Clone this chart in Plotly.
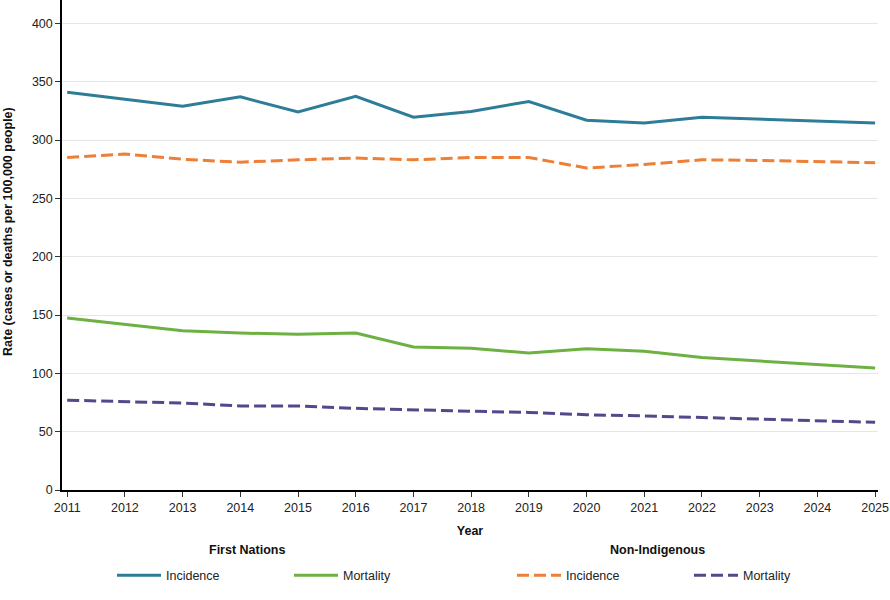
import plotly.graph_objects as go

years = list(range(2011, 2026))
fn_incidence = [341, 335, 329, 337, 324, 337.5, 319.5, 324.5, 333, 317, 314.5, 319.5, 318, 316, 314.5]
fn_mortality = [147.5, 142, 136.5, 134.5, 133.5, 134.5, 122.5, 121.5, 117.5, 121, 119, 113.5, 110.5, 107.5, 104.5]
ni_incidence = [285, 288, 283.5, 281, 283, 284.5, 283, 285, 285, 276, 279, 283, 282.5, 281.5, 280.5]
ni_mortality = [77, 75.5, 74.5, 72, 72, 70, 68.5, 67.5, 66.5, 64.5, 63.5, 62, 60.5, 59, 58]

y_ticks = [0, 50, 100, 150, 200, 250, 300, 350, 400]

FONT = "Liberation Sans, Arial, sans-serif"
C_BLUE = "#2e7d98"
C_GREEN = "#6db143"
C_ORANGE = "#ee7f37"
C_PURPLE = "#56478c"
DASH = "12px,5px"

fig = go.Figure()
fig.add_trace(go.Scatter(x=years, y=fn_incidence, mode="lines", name="Incidence",
                         line=dict(color=C_BLUE, width=3), legend="legend"))
fig.add_trace(go.Scatter(x=years, y=fn_mortality, mode="lines", name="Mortality",
                         line=dict(color=C_GREEN, width=3), legend="legend"))
fig.add_trace(go.Scatter(x=years, y=ni_incidence, mode="lines", name="Incidence",
                         line=dict(color=C_ORANGE, width=3, dash=DASH), legend="legend2"))
fig.add_trace(go.Scatter(x=years, y=ni_mortality, mode="lines", name="Mortality",
                         line=dict(color=C_PURPLE, width=3, dash=DASH), legend="legend2"))

legend_common = dict(
    orientation="h", yanchor="top", xanchor="left", y=-0.144,
    entrywidth=118, entrywidthmode="pixels", itemwidth=44,
    font=dict(family=FONT, size=12.5, color="#222"),
    bgcolor="rgba(0,0,0,0)",
)

fig.update_layout(
    width=890, height=600,
    margin=dict(l=62, r=12, t=0, b=110),
    plot_bgcolor="white", paper_bgcolor="white",
    font=dict(family=FONT, size=12, color="#222"),
    legend=dict(**legend_common, x=(112 - 62) / 816),
    legend2=dict(**legend_common, x=(512 - 62) / 816),
    annotations=[
        dict(text="<b>First Nations</b>", x=(247 - 62) / 816, y=-(550 - 490) / 490,
             xref="paper", yref="paper", xanchor="center", yanchor="middle",
             showarrow=False, font=dict(family=FONT, size=12.5, color="#111")),
        dict(text="<b>Non-Indigenous</b>", x=(657 - 62) / 816, y=-(550 - 490) / 490,
             xref="paper", yref="paper", xanchor="center", yanchor="middle",
             showarrow=False, font=dict(family=FONT, size=12.5, color="#111")),
        dict(text="<b>Rate (cases or deaths per 100,000 people)</b>",
             x=(8 - 62) / 816, y=(490 - 232) / 490, textangle=-90,
             xref="paper", yref="paper", xanchor="center", yanchor="middle",
             showarrow=False, font=dict(family=FONT, size=12.5, color="#111")),
    ],
    xaxis=dict(
        range=[2010.91, 2025.05], tickmode="array", tickvals=years,
        ticktext=[str(y) for y in years], automargin=False,
        showline=True, linecolor="#000", linewidth=1.5,
        ticks="outside", ticklen=5, tickcolor="#333",
        showgrid=False, zeroline=False,
        title=dict(text="<b>Year</b>", font=dict(family=FONT, size=12.5, color="#111"), standoff=12),
        tickfont=dict(family=FONT, size=12.5, color="#222"),
    ),
    yaxis=dict(
        range=[0, 420], tickmode="array", tickvals=y_ticks, automargin=False,
        showline=True, linecolor="#000", linewidth=1.5,
        ticks="outside", ticklen=5, tickcolor="#333",
        showgrid=True, gridcolor="#e6e6e6", gridwidth=1, zeroline=False,
        tickfont=dict(family=FONT, size=12.5, color="#222"),
    ),
)

fig.write_html("out.html")
